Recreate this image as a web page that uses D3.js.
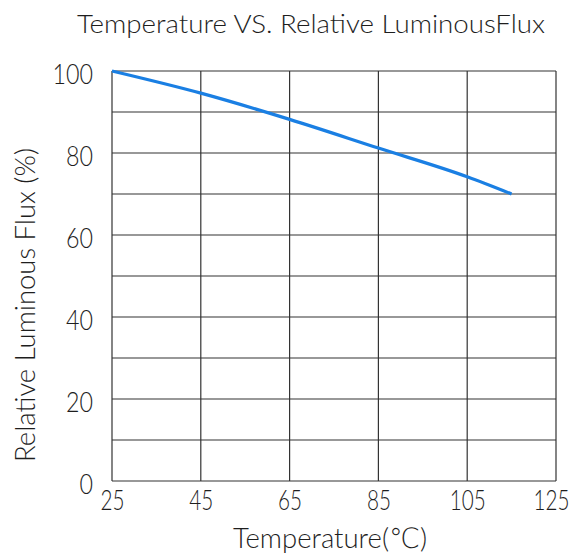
<!DOCTYPE html>
<html lang="en">
<head>
    <meta charset="UTF-8">
    <title>Temperature VS. Relative LuminousFlux</title>
    <script src="https://d3js.org/d3.v7.min.js"></script>
    <style>
        body { margin: 0; background: white; }
        svg text { font-family: Lato, "Open Sans", sans-serif; font-weight: 300; fill: #1e1e1e; }
    </style>
</head>
<body>
    <svg width="574" height="556" id="chart"></svg>
    <script>
        // data
        const temps = [25, 45, 65, 85, 105, 115];
        const flux = [100, 94.6, 88.2, 81.2, 74.2, 70];
        const xTicks = [25, 45, 65, 85, 105, 125];
        const yTicks = [0, 20, 40, 60, 80, 100];
        const yGrid = d3.range(0, 101, 10);

        const svg = d3.select("#chart");
        const plotLeft = 112, plotRight = 556, plotTop = 71, plotBottom = 481;

        const x = d3.scaleLinear().domain([25, 125]).range([plotLeft, plotRight]);
        const y = d3.scaleLinear().domain([0, 100]).range([plotBottom, plotTop]);

        // grid
        svg.append("g").selectAll("line").data(yGrid).join("line")
            .attr("x1", plotLeft).attr("x2", plotRight)
            .attr("y1", d => y(d)).attr("y2", d => y(d))
            .attr("stroke", "#333").attr("stroke-width", 1.2);
        svg.append("g").selectAll("line").data(xTicks).join("line")
            .attr("x1", d => x(d)).attr("x2", d => x(d))
            .attr("y1", plotTop).attr("y2", plotBottom)
            .attr("stroke", "#333").attr("stroke-width", 1.2);

        // tick labels (digits squeezed a bit, the source font is narrow)
        const xAxis = svg.append("g")
            .attr("transform", `translate(0,${plotBottom})`)
            .call(d3.axisBottom(x).tickValues(xTicks).tickSize(0).tickPadding(9));
        xAxis.select(".domain").remove();
        xAxis.selectAll("text").attr("font-size", 28).attr("fill", "#1e1e1e")
            .attr("textLength", d => String(d).length * 12)
            .attr("lengthAdjust", "spacingAndGlyphs")
            .attr("dx", (d, i) => i === xTicks.length - 1 ? -5 : 0);

        const yAxis = svg.append("g")
            .attr("transform", `translate(${plotLeft},0)`)
            .call(d3.axisLeft(y).tickValues(yTicks).tickSize(0).tickPadding(19));
        yAxis.select(".domain").remove();
        yAxis.selectAll("text").attr("font-size", 28).attr("dy", "0.43em").attr("fill", "#1e1e1e")
            .attr("textLength", d => String(d).length * 13.5)
            .attr("lengthAdjust", "spacingAndGlyphs");

        // curve
        const pts = temps.map((t, i) => [t, flux[i]]);
        svg.append("path")
            .datum(pts)
            .attr("fill", "none")
            .attr("stroke", "#1a7fe3")
            .attr("stroke-width", 3.2)
            .attr("d", d3.line().x(d => x(d[0])).y(d => y(d[1])).curve(d3.curveMonotoneX));

        // titles
        svg.append("text")
            .attr("x", 77).attr("y", 33)
            .attr("font-size", 26)
            .attr("textLength", 468)
            .attr("lengthAdjust", "spacingAndGlyphs")
            .text("Temperature VS. Relative LuminousFlux");

        const xLabel = svg.append("text")
            .attr("x", 233).attr("y", 548)
            .attr("font-size", 28)
            .attr("textLength", 194)
            .attr("lengthAdjust", "spacingAndGlyphs");
        xLabel.append("tspan").text("Temperature(");
        xLabel.append("tspan")
            .style("font-family", "'DejaVu Sans'")
            .style("font-weight", 200)
            .text("℃");
        xLabel.append("tspan").text(")");

        svg.append("text")
            .attr("transform", "translate(35,462) rotate(-90)")
            .attr("font-size", 28)
            .attr("textLength", 314)
            .attr("lengthAdjust", "spacingAndGlyphs")
            .text("Relative Luminous Flux (%)");
    </script>
</body>
</html>
